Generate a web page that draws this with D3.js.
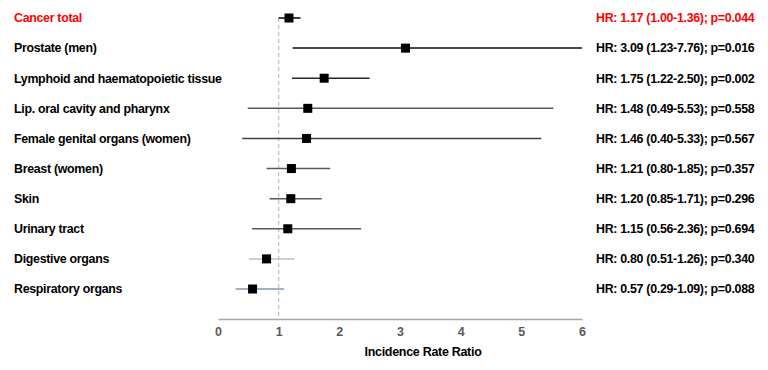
<!DOCTYPE html>
<html>
<head>
<meta charset="utf-8">
<script src="https://cdn.jsdelivr.net/npm/d3@7"></script>
<style>
  body { margin: 0; background: #fff; }
  text { font-family: Arial, "Liberation Sans", sans-serif; font-weight: bold; }
</style>
</head>
<body>
<svg id="chart" width="768" height="370"></svg>
<script>
// outcomes, top to bottom
var outcomes = ['Cancer total', 'Prostate (men)', 'Lymphoid and haematopoietic tissue',
	'Lip. oral cavity and pharynx', 'Female genital organs (women)', 'Breast (women)',
	'Skin', 'Urinary tract', 'Digestive organs', 'Respiratory organs'];
var hr    = [1.17, 3.09, 1.75, 1.48, 1.46, 1.21, 1.20, 1.15, 0.80, 0.57];
var lower = [1.00, 1.23, 1.22, 0.49, 0.40, 0.80, 0.85, 0.56, 0.51, 0.29];
var upper = [1.36, 7.76, 2.50, 5.53, 5.33, 1.85, 1.71, 2.36, 1.26, 1.09];
var pvals = ['0.044', '0.016', '0.002', '0.558', '0.567', '0.357', '0.296', '0.694', '0.340', '0.088'];
var lineColors = ['#000000', '#0d0d0d', '#262626', '#595959', '#404040',
	'#595959', '#595959', '#595959', '#bfbfbf', '#8497b0'];
var xTicks = [0, 1, 2, 3, 4, 5, 6];

var svg = d3.select('#chart');
var fmt = d3.format('.2f');

var x = d3.scaleLinear().domain([0, 6]).range([218, 582]);
var y = d3.scalePoint().domain(outcomes).range([18, 289]);

var rows = outcomes.map(function(o, i) {
	return { key: o, hr: hr[i], lo: lower[i], hi: upper[i], p: pvals[i], color: lineColors[i], first: i === 0 };
});

// reference line at 1
svg.append('line')
	.attr('x1', x(1)).attr('x2', x(1))
	.attr('y1', y(outcomes[0])).attr('y2', 319)
	.attr('stroke', '#bfbfbf').attr('stroke-width', 1.2)
	.attr('stroke-dasharray', '4,3');

// x axis
var axis = svg.append('g')
	.attr('transform', 'translate(0,319)')
	.call(d3.axisBottom(x).tickValues(xTicks).tickSize(0).tickPadding(8).tickFormat(d3.format('d')));
axis.select('.domain').attr('stroke', '#a6a6a6').attr('stroke-width', 1.5);
axis.selectAll('text')
	.attr('fill', '#595959')
	.style('font-size', '12.5px');

// axis title sits centred under the whole plot area, not the scale
svg.append('text')
	.attr('x', 423).attr('y', 356)
	.attr('text-anchor', 'middle')
	.style('font-size', '12.5px')
	.style('letter-spacing', '-0.3px')
	.text('Incidence Rate Ratio');

var row = svg.selectAll('.row').data(rows).enter()
	.append('g').classed('row', true)
	.attr('transform', function(d) { return 'translate(0,' + y(d.key) + ')'; });

row.append('line')
	.attr('x1', function(d) { return x(d.lo); })
	.attr('x2', function(d) { return x(Math.min(d.hi, 6)); })
	.attr('stroke', function(d) { return d.color; })
	.attr('stroke-width', 1.5);

row.append('rect')
	.attr('x', function(d) { return x(d.hr) - 4.5; })
	.attr('y', -4.5)
	.attr('width', 9).attr('height', 9)
	.attr('fill', '#000');

row.append('text')
	.attr('x', 14).attr('dy', '0.35em')
	.style('font-size', '12.4px')
	.style('letter-spacing', '-0.3px')
	.attr('fill', function(d) { return d.first ? '#ff0000' : '#000'; })
	.text(function(d) { return d.key; });

row.append('text')
	.attr('x', 596).attr('dy', '0.35em')
	.style('font-size', '12.4px')
	.style('letter-spacing', '-0.3px')
	.attr('fill', function(d) { return d.first ? '#ff0000' : '#000'; })
	.text(function(d) { return 'HR: ' + fmt(d.hr) + ' (' + fmt(d.lo) + '-' + fmt(d.hi) + '); p=' + d.p; });
</script>
</body>
</html>
